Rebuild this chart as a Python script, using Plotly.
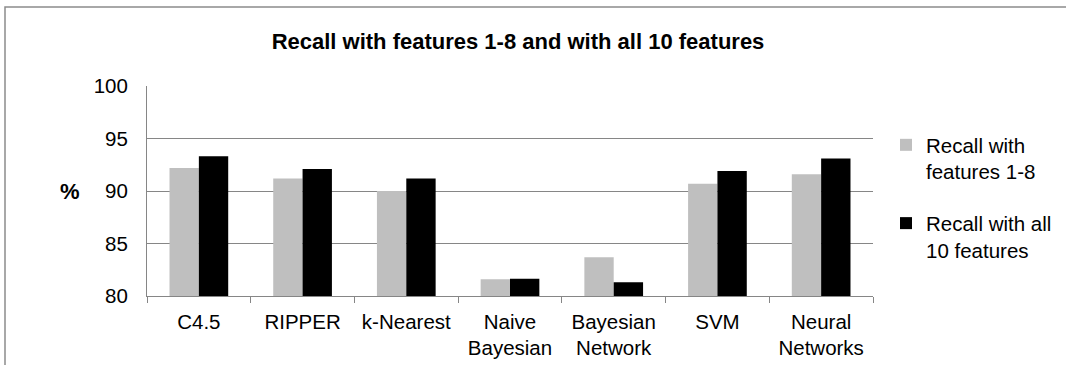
import plotly.graph_objects as go

categories = ["C4.5", "RIPPER", "k-Nearest", "Naive<br>Bayesian", "Bayesian<br>Network", "SVM", "Neural<br>Networks"]
recall_1_8 = [92.2, 91.2, 90.0, 81.6, 83.7, 90.7, 91.6]
recall_all = [93.3, 92.1, 91.2, 81.65, 81.3, 91.9, 93.1]
series_names = ["Recall with<br>features 1-8", "Recall with all<br>10 features"]
y_ticks = [80, 85, 90, 95, 100]

FONT = "Arial, Liberation Sans, sans-serif"
W, H = 1066, 365
L, R, T, B = 147, 873, 86, 296

fig = go.Figure()
fig.add_trace(go.Bar(x=categories, y=recall_1_8, name=series_names[0],
                     marker=dict(color="#BFBFBF", line=dict(width=0)),
                     legendgroup="a"))
fig.add_trace(go.Bar(x=categories, y=recall_all, name=series_names[1],
                     marker=dict(color="#000000", line=dict(width=0)),
                     legendgroup="b"))

def px_x(p):
    return (p - L) / (R - L)

def px_y(p):
    return (B - p) / (B - T)

fig.update_layout(
    width=W, height=H,
    margin=dict(l=L, r=W - R, t=T, b=H - B, autoexpand=False),
    paper_bgcolor="white", plot_bgcolor="white",
    font=dict(family=FONT, size=20.5, color="black"),
    barmode="group", bargap=0.434, bargroupgap=0,
    title=dict(text="<b>Recall with features 1-8 and with all 10 features</b>",
               font=dict(size=22, family=FONT, color="black"),
               xref="paper", x=px_x(518), xanchor="center",
               yref="container", y=1 - 41.5 / H, yanchor="middle"),
    showlegend=True,
    legend=dict(x=px_x(886), xanchor="left", y=px_y(125), yanchor="top",
                traceorder="grouped", tracegroupgap=22, valign="top",
                itemwidth=30, font=dict(size=20.5, family=FONT, color="black"),
                bgcolor="rgba(0,0,0,0)"),
    xaxis=dict(type="category", showgrid=False, showline=True, linecolor="#868686",
               linewidth=1, ticks="outside", tickson="boundaries", ticklen=6,
               tickcolor="#868686", tickwidth=1, automargin=False,
               ticklabelstandoff=7,
               tickfont=dict(size=20.5, family=FONT, color="black")),
    yaxis=dict(range=[80, 100], tickvals=y_ticks, showgrid=True, gridcolor="#868686",
               gridwidth=1, showline=True, linecolor="#868686", linewidth=1,
               ticks="", zeroline=False, automargin=False, ticklabelstandoff=14,
               tickfont=dict(size=20.5, family=FONT, color="black")),
    annotations=[dict(text="<b>%</b>", xref="paper", yref="paper",
                      x=px_x(70), y=px_y(191), xanchor="center", yanchor="middle",
                      showarrow=False, font=dict(size=22, family=FONT, color="black"))],
    shapes=[dict(type="rect", xref="paper", yref="paper",
                 x0=px_x(5), x1=px_x(1100), y0=px_y(7), y1=px_y(400),
                 line=dict(color="#8C8C8C", width=1.5), fillcolor="rgba(0,0,0,0)",
                 layer="below")],
)

fig.write_html("out.html")
